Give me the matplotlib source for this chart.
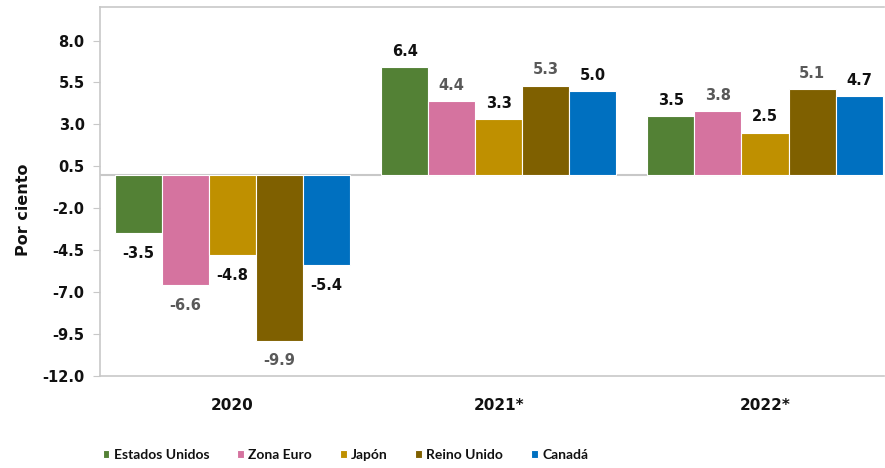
import numpy as np
import matplotlib
matplotlib.use("Agg")
import matplotlib.pyplot as plt

plt.rcParams['font.family'] = ['DejaVu Sans']

# ============= Data
years = ['2020', '2021*', '2022*']
paises = ['Estados Unidos', 'Zona Euro', 'Japón', 'Reino Unido', 'Canadá']
estados_unidos = [-3.5, 6.4, 3.5]
zona_euro = [-6.6, 4.4, 3.8]
japon = [-4.8, 3.3, 2.5]
reino_unido = [-9.9, 5.3, 5.1]
canada = [-5.4, 5.0, 4.7]
yticks = [-12.0, -9.5, -7.0, -4.5, -2.0, 0.5, 3.0, 5.5, 8.0]

series = [estados_unidos, zona_euro, japon, reino_unido, canada]
colores = ['#538135', '#D5739F', '#BF9000', '#7F6000', '#0070C0']
label_colors = ['#111111', '#595959', '#111111', '#595959', '#111111']
grid_gray = '#C8C8C8'

# ============= Figure
fig = plt.figure(figsize=(8.85, 4.68), dpi=100)
ax = fig.add_axes([100/885, 1 - 376/468, 784/885, 369/468])

x = np.arange(len(years))
w = 0.1767
for i, (vals, col) in enumerate(zip(series, colores)):
    pos = x + (i - 2) * w
    bars = ax.bar(pos, vals, w, color=col, edgecolor='white', linewidth=0.8,
                  label=paises[i], zorder=2)
    for b, v in zip(bars, vals):
        if v >= 0:
            ax.annotate(f'{v:.1f}', (b.get_x() + b.get_width()/2, v),
                        xytext=(0, 6), textcoords='offset points',
                        ha='center', va='bottom', fontsize=10.5,
                        fontweight='bold', color=label_colors[i])
        else:
            ax.annotate(f'{v:.1f}', (b.get_x() + b.get_width()/2, v),
                        xytext=(0, -9), textcoords='offset points',
                        ha='center', va='top', fontsize=10.5,
                        fontweight='bold', color=label_colors[i])

ax.axhline(0, color=grid_gray, linewidth=1.5, zorder=1)
ax.set_ylim(-12, 10)
ax.set_xlim(-0.498, 2.447)
ax.set_yticks(yticks)
ax.set_yticklabels([f'{t:.1f}' for t in yticks], fontsize=10.5,
                   fontweight='bold', color='#111111')
ax.set_xticks(x)
ax.set_xticklabels(years, fontsize=11, fontweight='bold', color='#111111')
ax.tick_params(axis='x', length=0, pad=16)
ax.tick_params(axis='y', length=5, color=grid_gray, pad=6)

for s in ['left', 'top', 'bottom']:
    ax.spines[s].set_color(grid_gray)
    ax.spines[s].set_linewidth(1.2)
ax.spines['right'].set_visible(False)

ax.set_ylabel('Por ciento', fontsize=11.5, fontweight='bold', color='#111111')
ax.yaxis.set_label_coords(-0.088, 0.45)

leg = fig.legend(loc='center left', bbox_to_anchor=(90/885, 1 - 455/468),
                 ncol=5, frameon=False, handlelength=0.5, handleheight=0.55,
                 handletextpad=0.3, columnspacing=2.0,
                 prop={'family': 'Lato', 'weight': 'bold', 'size': 10})
for t in leg.get_texts():
    t.set_color('#111111')

fig.savefig('out.png', dpi=100)
